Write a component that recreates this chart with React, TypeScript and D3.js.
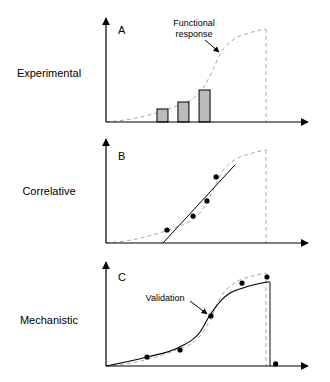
import React from "react";
import * as d3 from "d3";

// ---- data ----
const panelLetters = ["A", "B", "C"];
const panelNames = ["Experimental", "Correlative", "Mechanistic"];

// functional response curve (x 0..100, y 0..100)
const frX = [0, 15, 30, 45, 55, 62, 67, 72, 80, 90, 100];
const frY = [0, 3, 9, 18, 26, 40, 57, 75, 89, 96, 100];

// A: experimental bars
const barX = [35.3, 48.4, 61.6];
const barH = [14, 21.5, 34.4];

// B: correlative points and fitted line
const corrX = [38.1, 54.4, 63.1, 68.8];
const corrY = [14, 29, 45.2, 71];
const fitX = [35.6, 80.6];
const fitY = [0, 83.9];

// C: mechanistic model curve and validation points
const mechX = [0, 25.6, 46, 58.8, 65, 71, 77.5, 85.6, 100.6, 102.5, 102.5];
const mechY = [0, 9.7, 20.4, 36.6, 54.8, 68.8, 78.5, 83.9, 90.3, 90.3, 0];
const valX = [25.6, 46.3, 65.6, 85, 100.6, 106];
const valY = [9.7, 17.2, 53.8, 89.2, 95.7, 2.2];

const baselines = [122, 243, 366];
const FONT = "'Liberation Sans', Arial, Helvetica, sans-serif";

export default function App() {
  const x = d3.scaleLinear().domain([0, 100]).range([106, 266]);
  const mkY = (b: number) => d3.scaleLinear().domain([0, 100]).range([b, b - 93]);

  const smooth = (ys: d3.ScaleLinear<number, number>) =>
    d3
      .line<[number, number]>()
      .x((d) => x(d[0]))
      .y((d) => ys(d[1]))
      .curve(d3.curveMonotoneX);

  const frPts: [number, number][] = frX.map((v, i) => [v, frY[i]]);

  return (
    <svg
      width={330}
      height={382}
      style={{ position: "absolute", left: 0, top: 0, background: "#fff" }}
      fontFamily={FONT}
    >
      <defs>
        <marker id="ah" viewBox="0 0 10 10" refX="9" refY="5" markerWidth="8" markerHeight="8" markerUnits="userSpaceOnUse" orient="auto">
          <path d="M0,0 L10,5 L0,10 Z" fill="#000" />
        </marker>
        <marker id="ahs" viewBox="0 0 10 10" refX="9" refY="5" markerWidth="6" markerHeight="6" markerUnits="userSpaceOnUse" orient="auto">
          <path d="M0,0 L10,5 L0,10 Z" fill="#000" />
        </marker>
      </defs>

      {baselines.map((b, pi) => {
        const y = mkY(b);
        const fr = smooth(y)(frPts) || "";
        return (
          <g key={pi}>
            {/* left label */}
            <text x={49} y={[77, 195, 324][pi]} fontSize={11} textAnchor="middle" fill="#000">
              {panelNames[pi]}
            </text>
            {/* panel letter */}
            <text x={118} y={[34, 160, 281][pi]} fontSize={11} fill="#000">
              {panelLetters[pi]}
            </text>
            {/* functional response dashed */}
            <path d={fr} fill="none" stroke="#aaa" strokeWidth={1} strokeDasharray="4,3" />
            <line x1={x(100)} x2={x(100)} y1={y(100)} y2={b} stroke="#aaa" strokeWidth={1} strokeDasharray="4,3" />

            {pi === 0 &&
              barX.map((bx, i) => (
                <rect
                  key={i}
                  x={x(bx) - 5.5}
                  width={11}
                  y={y(barH[i])}
                  height={b - y(barH[i])}
                  fill="#bbb"
                  stroke="#000"
                  strokeWidth={1}
                />
              ))}

            {pi === 1 && (
              <g>
                <line x1={x(fitX[0])} y1={y(fitY[0])} x2={x(fitX[1])} y2={y(fitY[1])} stroke="#000" strokeWidth={1} />
                {corrX.map((cx, i) => (
                  <circle key={i} cx={x(cx)} cy={y(corrY[i])} r={2.6} fill="#000" />
                ))}
              </g>
            )}

            {pi === 2 && (
              <g>
                <path
                  d={
                    d3
                      .line<[number, number]>()
                      .x((d) => x(d[0]))
                      .y((d) => y(d[1]))
                      .curve(d3.curveMonotoneX)(mechX.slice(0, 9).map((v, i) => [v, mechY[i]])) || ""
                  }
                  fill="none"
                  stroke="#000"
                  strokeWidth={1.1}
                />
                <line x1={x(mechX[8])} y1={y(mechY[8])} x2={x(mechX[9])} y2={y(mechY[9])} stroke="#000" strokeWidth={1.1} />
                <line x1={x(mechX[9])} y1={y(mechY[9])} x2={x(mechX[10])} y2={y(mechY[10])} stroke="#666" strokeWidth={1.6} />
                {valX.map((vx, i) => (
                  <circle key={i} cx={x(vx)} cy={y(valY[i])} r={2.6} fill="#000" />
                ))}
              </g>
            )}

            {/* axes */}
            <line x1={106} y1={b} x2={106} y2={b - 104} stroke="#000" strokeWidth={1.2} markerEnd="url(#ah)" />
            <line x1={106} y1={b} x2={308} y2={b} stroke="#000" strokeWidth={1.2} markerEnd="url(#ah)" />
          </g>
        );
      })}

      {/* annotations */}
      <text x={194} y={26} fontSize={9} textAnchor="middle" fill="#000">Functional</text>
      <text x={194} y={37} fontSize={9} textAnchor="middle" fill="#000">response</text>
      <line x1={205} y1={40} x2={219} y2={52} stroke="#000" strokeWidth={1} markerEnd="url(#ahs)" />

      <text x={165} y={301} fontSize={9} textAnchor="middle" fill="#000">Validation</text>
      <line x1={190} y1={301} x2={207} y2={314} stroke="#000" strokeWidth={1} markerEnd="url(#ahs)" />
    </svg>
  );
}
